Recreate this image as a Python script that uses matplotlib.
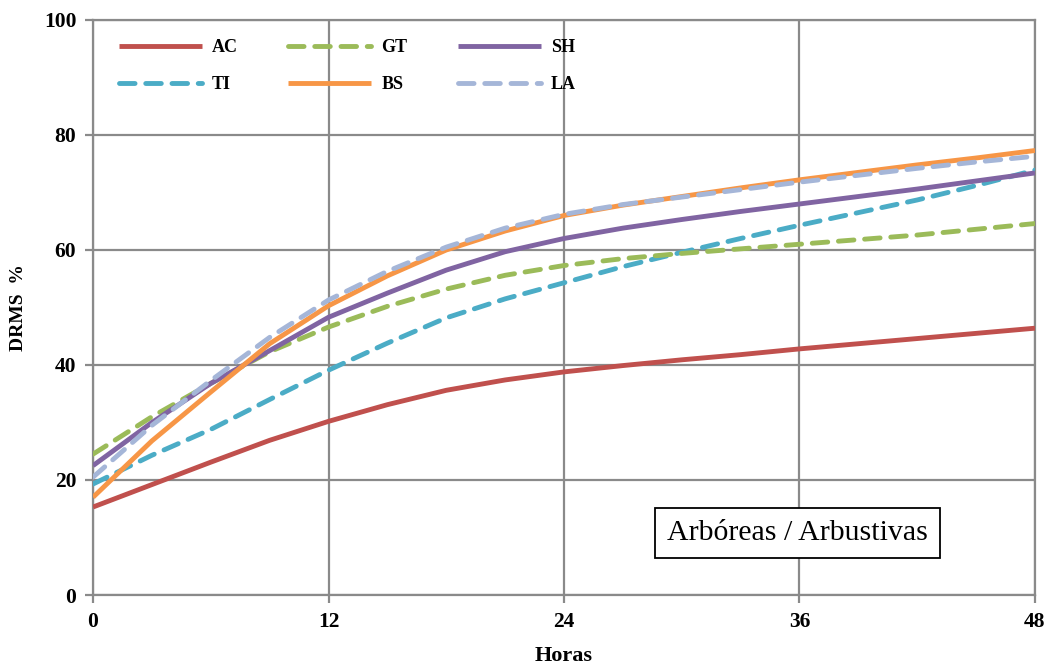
import matplotlib.pyplot as plt

horas = [0, 3, 6, 9, 12, 15, 18, 21, 24, 27, 30, 33, 36, 39, 42, 45, 48]

ac = [15.3, 19.2, 23.1, 26.9, 30.2, 33.1, 35.6, 37.4, 38.8, 39.9, 40.9, 41.8, 42.8, 43.7, 44.6, 45.5, 46.4]
gt = [24.5, 31.0, 36.8, 42.3, 46.6, 50.2, 53.2, 55.6, 57.3, 58.5, 59.4, 60.2, 61.0, 61.8, 62.6, 63.6, 64.6]
sh = [22.5, 30.0, 36.8, 42.5, 48.3, 52.5, 56.5, 59.7, 62.0, 63.8, 65.3, 66.7, 68.0, 69.3, 70.6, 72.0, 73.4]
ti = [19.3, 24.3, 28.8, 34.0, 39.1, 43.8, 48.2, 51.5, 54.3, 57.1, 59.6, 62.0, 64.3, 66.5, 68.7, 71.2, 73.9]
bs = [17.0, 26.8, 35.3, 43.7, 50.3, 55.5, 60.0, 63.3, 66.0, 67.8, 69.3, 70.8, 72.2, 73.5, 74.8, 76.0, 77.3]
la = [20.5, 29.5, 37.3, 44.8, 51.3, 56.3, 60.5, 63.8, 66.2, 67.9, 69.2, 70.5, 71.8, 73.0, 74.2, 75.3, 76.3]

xticks = [0, 12, 24, 36, 48]
yticks = [0, 20, 40, 60, 80, 100]

plt.rcParams['font.family'] = ['Liberation Serif', 'DejaVu Serif']

fig = plt.figure(figsize=(10.5, 6.66), dpi=100)
ax = fig.add_axes([0.0886, 0.1066, 0.8971, 0.8634])

grey = '#8a8a8a'
lw = 3.5
dash = (3.2, 2.2)

series = [
    ('AC', ac, '#C0504D', '-'),
    ('TI', ti, '#4BACC6', '--'),
    ('GT', gt, '#9BBB59', '--'),
    ('BS', bs, '#F79646', '-'),
    ('SH', sh, '#8064A2', '-'),
    ('LA', la, '#A5B6D8', '--'),
]

# lighter lines drawn last so they sit on top
draw_order = ['AC', 'TI', 'GT', 'SH', 'BS', 'LA']
handles = {}
for name in draw_order:
    for lab, vals, col, ls in series:
        if lab == name:
            if ls == '--':
                line, = ax.plot(horas, vals, color=col, lw=lw, ls=(0, dash),
                                dash_capstyle='round', label=lab, zorder=3)
            else:
                line, = ax.plot(horas, vals, color=col, lw=lw, solid_capstyle='butt',
                                solid_joinstyle='round', label=lab, zorder=3)
            handles[lab] = line

ax.set_xlim(0, 48)
ax.set_ylim(0, 100)
ax.set_xticks(xticks)
ax.set_yticks(yticks)
ax.grid(True, color=grey, lw=1.6)
ax.set_axisbelow(True)
for sp in ax.spines.values():
    sp.set_color(grey)
    sp.set_linewidth(1.6)
ax.tick_params(axis='both', color=grey, width=1.6, length=6, pad=6, labelsize=15.5)
for t in ax.get_xticklabels() + ax.get_yticklabels():
    t.set_fontweight('bold')

ax.set_xlabel('Horas', fontsize=16, fontweight='bold', labelpad=10)
ax.set_ylabel('DRMS  %', fontsize=14, fontweight='bold', labelpad=12)

order = [lab for lab, _, _, _ in series]
ax.legend([handles[l] for l in order], order, ncol=3, frameon=False,
          loc='upper left', bbox_to_anchor=(0.01, 0.995),
          prop={'weight': 'bold', 'size': 13}, handlelength=4.6,
          handletextpad=0.55, columnspacing=2.8, labelspacing=1.1)

ax.text(0.748, 0.108, 'Arbóreas / Arbustivas', transform=ax.transAxes,
        fontsize=21.5, ha='center', va='center',
        bbox=dict(boxstyle='square,pad=0.4', fc='white', ec='black', lw=1.3))

fig.savefig('out.png', dpi=100)
